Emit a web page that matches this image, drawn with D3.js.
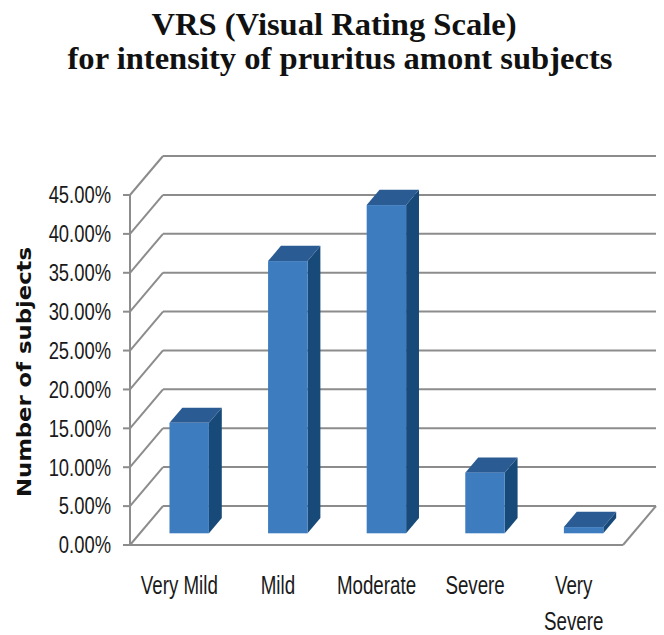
<!DOCTYPE html>
<html>
<head>
<meta charset="utf-8">
<script src="https://cdn.jsdelivr.net/npm/d3@7"></script>
<style>
  html, body { margin: 0; padding: 0; background: #ffffff; }
  svg { display: block; }
</style>
</head>
<body>
<svg id="chart" width="664" height="635"></svg>
<script>
// ---- data ----
const titleLines = ["VRS (Visual Rating Scale)", "for intensity of pruritus amont subjects"];
const yAxisTitle = "Number of subjects";
const categories = ["Very Mild", "Mild", "Moderate", "Severe", "Very Severe"];
const categoryLines = [["Very Mild"], ["Mild"], ["Moderate"], ["Severe"], ["Very", "Severe"]];
const values = [14.2, 35.0, 42.2, 7.8, 0.8];
const yTicks = [0, 5, 10, 15, 20, 25, 30, 35, 40, 45];

(function () {
// ---- layout ----
const svg = d3.select("#chart");
const plotLeft = 130, plotRight = 623, plotBottom = 545, plotTop = 195;
const depthX = 33, depthY = -39;         // full floor depth offset
const barDepth0 = 0.30, barDepth1 = 0.69; // bar occupies this depth fraction
const narrowFont = "'Liberation Sans', Arial, sans-serif";

const x = d3.scaleBand().domain(categories).range([plotLeft, plotRight]).paddingInner(0.6).paddingOuter(0.3);
const y = d3.scaleLinear().domain([0, 45]).range([plotBottom, plotTop]);
const slot = d3.scaleBand().domain(categories).range([plotLeft, plotRight]);

const gridColor = "#8c8c8c";

// ---- walls / grid ----
const grid = svg.append("g").attr("fill", "none").attr("stroke", gridColor).attr("stroke-width", 2);
grid.append("g").selectAll("line").data(yTicks).join("line")
  .attr("x1", plotLeft + depthX).attr("x2", plotRight + depthX)
  .attr("y1", d => y(d) + depthY).attr("y2", d => y(d) + depthY);
grid.append("g").selectAll("line").data(yTicks).join("line")
  .attr("x1", plotLeft).attr("x2", plotLeft + depthX)
  .attr("y1", d => y(d)).attr("y2", d => y(d) + depthY);
grid.append("line").attr("x1", plotLeft).attr("x2", plotRight).attr("y1", y(0)).attr("y2", y(0));
grid.append("line").attr("x1", plotRight).attr("x2", plotRight + depthX).attr("y1", y(0)).attr("y2", y(0) + depthY);
grid.append("line").attr("x1", plotLeft).attr("x2", plotLeft).attr("y1", y(45)).attr("y2", y(0));
grid.append("g").selectAll("line").data(yTicks).join("line")
  .attr("x1", plotLeft - 7).attr("x2", plotLeft)
  .attr("y1", d => y(d)).attr("y2", d => y(d));

// ---- tick labels ----
svg.append("g").selectAll("text").data(yTicks).join("text")
  .attr("transform", d => `translate(111,${y(d)}) scale(0.8,1)`)
  .attr("dy", "0.36em")
  .attr("text-anchor", "end")
  .attr("font-family", narrowFont)
  .attr("font-size", 23)
  .attr("fill", "#1a1a1a")
  .text(d => d.toFixed(2) + "%");

// ---- bars ----
const fx = barDepth0 * depthX, fy = barDepth0 * depthY;
const sx = (barDepth1 - barDepth0) * depthX, sy = (barDepth1 - barDepth0) * depthY;
const bars = svg.append("g");
categories.forEach((c, i) => {
  const v = values[i];
  const x0 = x(c) + fx, x1 = x0 + x.bandwidth();
  const yb = y(0) + fy, yt = y(v) + fy;
  const g = bars.append("g");
  g.append("path")
    .attr("d", `M${x1},${yt} L${x1 + sx},${yt + sy} L${x1 + sx},${yb + sy} L${x1},${yb} Z`)
    .attr("fill", "#174a79");
  g.append("path")
    .attr("d", `M${x0},${yt} L${x0 + sx},${yt + sy} L${x1 + sx},${yt + sy} L${x1},${yt} Z`)
    .attr("fill", "#2b5b93");
  g.append("rect")
    .attr("x", x0).attr("y", yt).attr("width", x1 - x0).attr("height", yb - yt)
    .attr("fill", "#3e7cc0");
});

// ---- category labels ----
const catG = svg.append("g")
  .attr("font-family", narrowFont)
  .attr("font-size", 25)
  .attr("fill", "#1a1a1a")
  .attr("text-anchor", "middle");
categories.forEach((c, i) => {
  const cx = slot(c) + slot.bandwidth() / 2;
  categoryLines[i].forEach((line, j) => {
    catG.append("text")
      .attr("transform", `translate(${cx},${594 + j * 36}) scale(0.75,1)`)
      .text(line);
  });
});

// ---- y axis title ----
svg.append("text")
  .attr("transform", "translate(31,372) rotate(-90)")
  .attr("text-anchor", "middle")
  .attr("font-family", "'DejaVu Sans', Verdana, sans-serif")
  .attr("font-weight", "bold")
  .attr("font-size", 20)
  .attr("textLength", 250)
  .attr("lengthAdjust", "spacingAndGlyphs")
  .attr("fill", "#111")
  .text(yAxisTitle);

// ---- title ----
const titleWidths = [365, 545];
const titleX = [334, 340];
const titleY = [35, 68.5];
titleLines.forEach((t, i) => {
  svg.append("text")
    .attr("x", titleX[i]).attr("y", titleY[i])
    .attr("text-anchor", "middle")
    .attr("font-family", "'Liberation Serif', 'DejaVu Serif', serif")
    .attr("font-weight", "bold")
    .attr("font-size", 32)
    .attr("textLength", titleWidths[i])
    .attr("lengthAdjust", "spacingAndGlyphs")
    .attr("fill", "#111")
    .text(t);
});
})();
</script>
</body>
</html>
